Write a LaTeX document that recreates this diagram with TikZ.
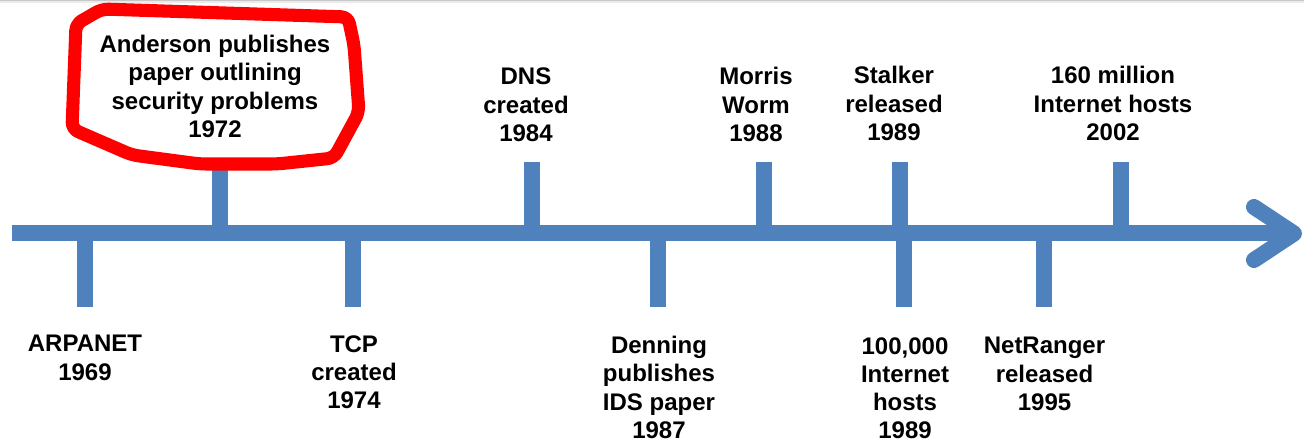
\documentclass[tikz,border=0pt]{standalone}
\usepackage{fontspec}
\setmainfont{Liberation Sans}
\definecolor{axisblue}{HTML}{4F81BD}
\definecolor{markred}{HTML}{FF0000}
\begin{document}
\begin{tikzpicture}[x=0.75pt,y=-0.75pt,
  bar/.style={draw=axisblue,line width=12pt},
  barshadow/.style={draw=black,opacity=0.14,line width=12pt},
  chevron/.style={draw=axisblue,line width=12pt,line cap=round,line join=round},
  event/.style={font=\fontsize{18}{21.2}\selectfont\bfseries,align=center,inner sep=0pt,text=black},
  loop/.style={draw=markred,line width=9.8pt,line join=round,rounded corners=5pt}]
\useasboundingbox (0,0) rectangle (1304,442);
% faint rule along the top edge
\fill[black!22] (0,0) rectangle (1304,1.5);
\fill[black!8] (0,1.5) rectangle (1304,3);

% points on the axis
\coordinate (start) at (12,233.5);
\coordinate (tip) at (1294,233.5);
\coordinate (armU) at (1254,207);
\coordinate (armD) at (1254,260);
\coordinate (a1969) at (85,233.5);
\coordinate (a1972) at (220,233.5);
\coordinate (a1974) at (353,233.5);
\coordinate (a1984) at (532,233.5);
\coordinate (a1987) at (658,233.5);
\coordinate (a1988) at (764,233.5);
\coordinate (a1989s) at (900,233.5);
\coordinate (a1989h) at (904,233.5);
\coordinate (a1995) at (1044,233.5);
\coordinate (a2002) at (1120.5,233.5);

% soft shadows under the bars
\begin{scope}[shift={(1.5,2.5)}]
  \foreach \p in {a1972,a1984,a1988,a1989s,a2002} \draw[barshadow] (\p) -- ++(0,-71.5);
  \foreach \p in {a1969,a1974,a1987,a1989h,a1995} \draw[barshadow] (\p) -- ++(0,73.5);
  \draw[barshadow] (start) -- (tip);
\end{scope}

% ticks above the axis
\foreach \p in {a1972,a1984,a1988,a1989s,a2002} \draw[bar] (\p) -- ++(0,-71.5);
% ticks below the axis
\foreach \p in {a1969,a1974,a1987,a1989h,a1995} \draw[bar] (\p) -- ++(0,73.5);
% axis with open arrowhead
\draw[bar] (start) -- (tip);
\draw[chevron] (armU) -- (tip) -- (armD);

% hand-drawn highlight around the 1972 event
\draw[loop] (102,9) -- (348,17) -- (354,45) -- (359,112) -- (334,158) -- (277,164)
  -- (200,164) -- (132,155) -- (72,129) -- (76,24) -- cycle;

% events above the axis
\node[event,anchor=south] (e1972) at (215,138) {Anderson publishes\\paper outlining\\security problems\\1972};
\node[event,anchor=south] (e1984) at (526,142) {DNS\\created\\1984};
\node[event,anchor=south] (e1988) at (756,142) {Morris\\Worm\\1988};
\node[event,anchor=south] (e1989s) at (894,141) {Stalker\\released\\1989};
\node[event,anchor=south] (e2002) at (1113,141) {160 million\\Internet hosts\\2002};

% events below the axis
\node[event,anchor=north] (e1969) at (85,335) {ARPANET\\1969};
\node[event,anchor=north] (e1974) at (354,335) {TCP\\created\\1974};
\node[event,anchor=north] (e1987) at (659,336) {Denning\\publishes\\IDS paper\\1987};
\node[event,anchor=north] (e1989h) at (905,337) {100,000\\Internet\\hosts\\1989};
\node[event,anchor=north] (e1995) at (1044.5,337) {NetRanger\\released\\1995};
\end{tikzpicture}
\end{document}
